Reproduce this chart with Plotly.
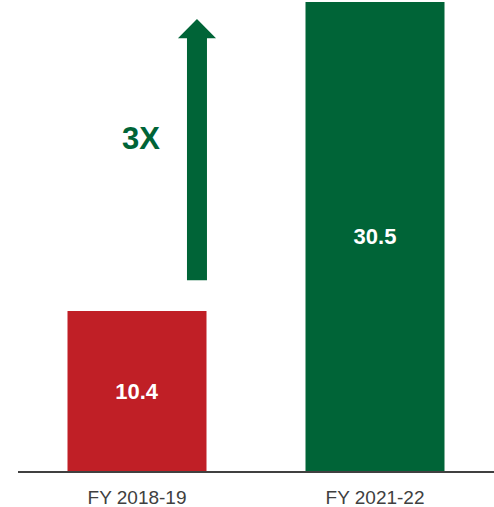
import plotly.graph_objects as go

categories = ["FY 2018-19", "FY 2021-22"]
values = [10.4, 30.5]
bar_colors = ["#C01F26", "#006437"]
growth_label = "3X"

fig = go.Figure()
fig.add_trace(go.Bar(
    x=categories, y=values,
    marker=dict(color=bar_colors, line=dict(width=0)),
    text=[f"{v:.1f}" for v in values],
    textposition="inside", insidetextanchor="middle",
    textfont=dict(family="Liberation Sans, Arial", size=22, color="white", weight="bold"),
    textangle=0,
    width=0.584,
    hoverinfo="skip",
))

# arrow (decorative) in axis coordinates
xc, sw, hw = 0.252, 0.042, 0.08
y0, yb, yt = 12.4, 28.15, 29.4
path = (f"M {xc-sw} {y0} L {xc+sw} {y0} L {xc+sw} {yb} L {xc+hw} {yb} "
        f"L {xc} {yt} L {xc-hw} {yb} L {xc-sw} {yb} Z")
fig.add_shape(type="path", path=path, xref="x", yref="y",
              fillcolor="#006437", line=dict(width=0))

fig.add_annotation(x=0.017, y=21.6, xref="x", yref="y", text=growth_label,
                   showarrow=False,
                   font=dict(family="Liberation Sans, Arial", size=31, color="#006437", weight="bold"))

fig.update_layout(
    width=494, height=507,
    margin=dict(l=18, r=0, t=0, b=36),
    plot_bgcolor="white", paper_bgcolor="white",
    showlegend=False,
    xaxis=dict(showline=True, linecolor="#404040", linewidth=2, ticks="",
               ticklabelstandoff=8,
               tickfont=dict(family="Liberation Sans, Arial", size=19, color="#404040"),
               showgrid=False, fixedrange=True),
    yaxis=dict(visible=False, range=[0, 30.63], showgrid=False, fixedrange=True),
)
fig.write_html("out.html", config={"displayModeBar": False},
               post_script="document.body.style.margin='0';document.body.style.overflow='hidden';")
